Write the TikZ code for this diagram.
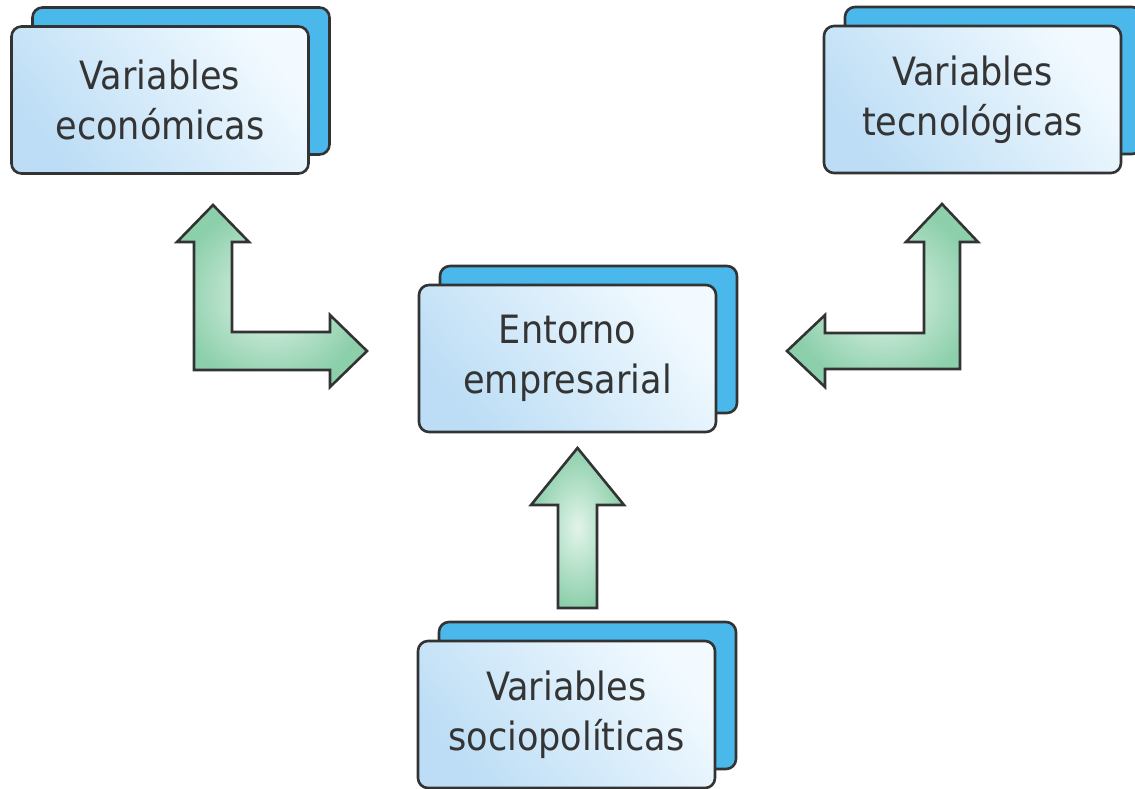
\documentclass[tikz,border=0pt]{standalone}
\usepackage{fontspec}
\setmainfont{DejaVu Sans Condensed}
\definecolor{edge}{HTML}{333333}
\definecolor{txt}{HTML}{343434}
\definecolor{boxA}{HTML}{BCDDF5}
\definecolor{boxB}{HTML}{F2FAFF}
\definecolor{backblue}{HTML}{4BB8EB}
\definecolor{arrIn}{HTML}{E2F4EA}
\definecolor{arrOut}{HTML}{8CCFAB}
\begin{document}
\begin{tikzpicture}[x=1pt,y=-1pt,
  frontbox/.style={rectangle, rounded corners=10pt, minimum width=297pt, minimum height=147pt,
    draw=edge, line width=2.6pt, top color=boxB, bottom color=boxA, shading angle=-50,
    align=center, text=txt, font=\fontsize{39}{50}\selectfont, inner sep=0pt},
  backbox/.style={rectangle, rounded corners=10pt, minimum width=297pt, minimum height=147pt,
    draw=edge, line width=2.6pt, fill=backblue},
  blockarrow/.style={draw=edge, line width=2.6pt, line join=miter, inner color=arrIn, outer color=arrOut}]
\clip (0,0) rectangle (1135,788);
% back boxes
\node[backbox] (econback) at (181,81) {};
\node[backbox] (tecback) at (993.5,80.5) {};
\node[backbox] (entback) at (588.5,339.5) {};
\node[backbox] (socback) at (587.5,695.5) {};
% front boxes
\node[frontbox] (econ) at (160,100) {Variables\\económicas};
\node[frontbox] (tec) at (972.5,99.5) {Variables\\tecnológicas};
\node[frontbox] (ent) at (567.5,358.5) {Entorno\\empresarial};
\node[frontbox] (soc) at (566.5,714.5) {Variables\\sociopolíticas};
% arrows
\shade[blockarrow] (213,205) -- (249,242) -- (232,242) -- (232,332) -- (330,332) -- (330,315)
  -- (367,351) -- (330,387) -- (330,370) -- (194,370) -- (194,242) -- (177,242) -- cycle;
\shade[blockarrow] (942,204) -- (978,242) -- (960,242) -- (960,369) -- (825,369) -- (825,387)
  -- (787,351) -- (825,315) -- (825,333) -- (924,333) -- (924,242) -- (906,242) -- cycle;
\shade[blockarrow] (577.5,448) -- (624,505) -- (597,505) -- (597,608) -- (558,608) -- (558,505)
  -- (531,505) -- cycle;
\end{tikzpicture}
\end{document}
